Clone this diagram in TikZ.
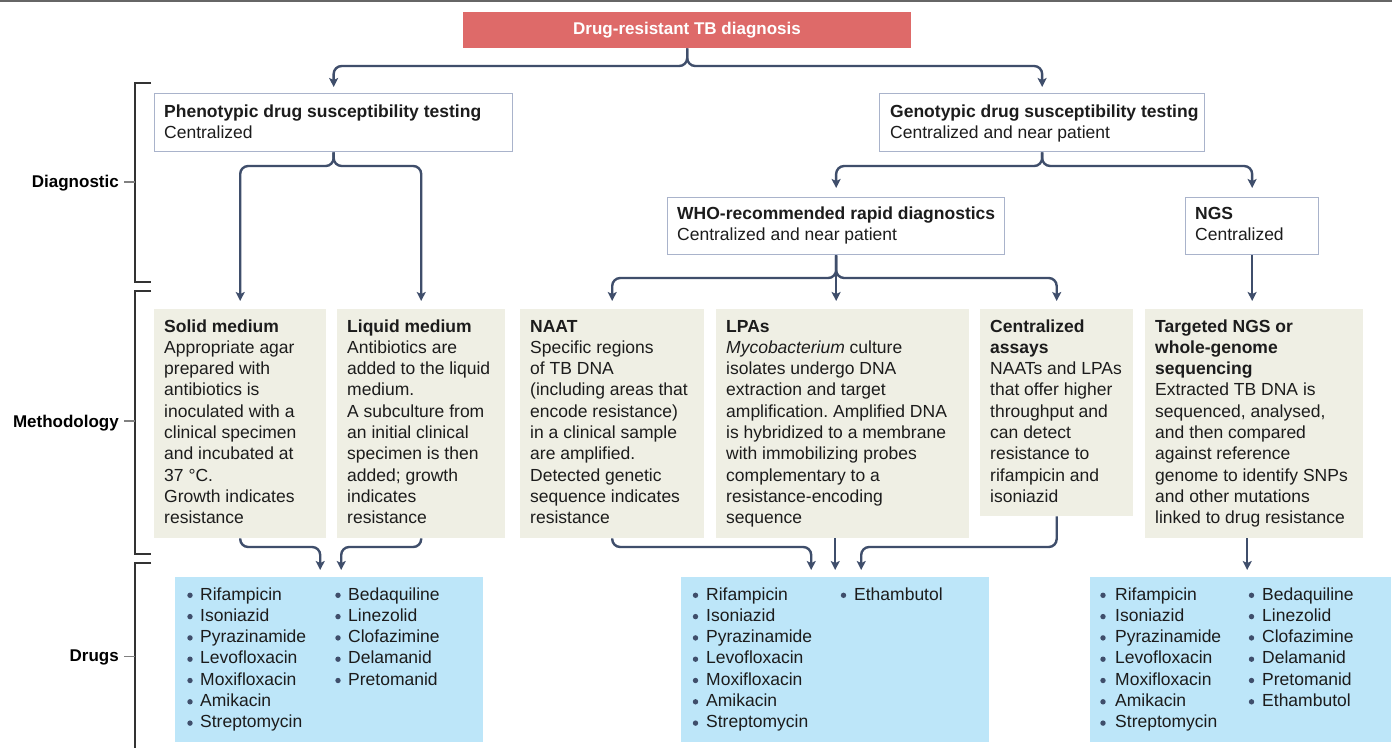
\documentclass[tikz,border=0pt]{standalone}
\usepackage{fontspec}
\setmainfont{Liberation Sans}
\usetikzlibrary{arrows.meta,calc}
\definecolor{titlered}{HTML}{DE6A69}
\definecolor{conncol}{HTML}{3F4E6B}
\definecolor{bordc}{HTML}{A9B3CB}
\definecolor{beige}{HTML}{EFEFE4}
\definecolor{drugblue}{HTML}{BDE6F9}
\definecolor{txtc}{HTML}{1C1C1C}
\newcommand{\mylines}[1]{\begin{tabular}[t]{@{}l@{}}#1\end{tabular}}
\frenchspacing
\begin{document}
\begin{tikzpicture}[x=1pt,y=-1pt,
 wbox/.style={draw=bordc,line width=1.3pt,fill=white,inner sep=0pt,anchor=north west},
 mbox/.style={fill=beige,inner sep=0pt,anchor=north west},
 dbox/.style={fill=drugblue,inner sep=0pt,anchor=north west},
 txt/.style={inner sep=0pt,anchor=base west,text=txtc,font=\fontsize{17.5}{21.3}\selectfont},
 lab/.style={inner sep=0pt,anchor=base east,text=black,font=\fontsize{17}{20}\selectfont\bfseries},
 conn/.style={draw=conncol,line width=2.4pt,rounded corners=8pt,-{Stealth[length=9pt,width=9pt,inset=2pt]},shorten >=8pt},
 brk/.style={draw=black!80,line width=1.3pt},
 tick/.style={draw=black!50,line width=1.3pt}
]
\useasboundingbox (0,0) rectangle (1392,748);
\fill[white] (0,0) rectangle (1392,748);
\draw[black!60,line width=1.6pt] (0,1) -- (1392,1);

% boxes
\node[fill=titlered,inner sep=0pt,anchor=north west,minimum width=448pt,minimum height=36pt] (title) at (463,12) {};
\node[inner sep=0pt,anchor=base,text=white,font=\fontsize{17}{20}\selectfont\bfseries] (titlet) at (687,34.3) {Drug-resistant TB diagnosis};

\node[wbox,minimum width=358pt,minimum height=58pt] (pheno) at (154,93) {};
\node[wbox,minimum width=325pt,minimum height=58pt] (geno) at (879,93) {};
\node[wbox,minimum width=337pt,minimum height=57pt] (who) at (667,197) {};
\node[wbox,minimum width=133pt,minimum height=57pt] (ngs) at (1185,197) {};

\node[mbox,minimum width=172pt,minimum height=229pt] (solid) at (154,309) {};
\node[mbox,minimum width=168pt,minimum height=229pt] (liquid) at (337,309) {};
\node[mbox,minimum width=184pt,minimum height=229pt] (naat) at (520,309) {};
\node[mbox,minimum width=253pt,minimum height=229pt] (lpa) at (716,309) {};
\node[mbox,minimum width=153pt,minimum height=207pt] (ca) at (980,309) {};
\node[mbox,minimum width=218pt,minimum height=229pt] (targ) at (1145,309) {};

\node[dbox,minimum width=308pt,minimum height=165pt] (drugL) at (175,577) {};
\node[dbox,minimum width=308pt,minimum height=165pt] (drugM) at (681,577) {};
\node[dbox,minimum width=301pt,minimum height=165pt] (drugR) at (1090,577) {};

% texts
\node[txt] (phenot) at (164,117) {\mylines{\textbf{Phenotypic drug susceptibility testing}\\Centralized}};
\node[txt] (genot) at (890,117) {\mylines{\textbf{Genotypic drug susceptibility testing}\\Centralized and near patient}};
\node[txt] (whot) at (677,219) {\mylines{\textbf{WHO-recommended rapid diagnostics}\\Centralized and near patient}};
\node[txt] (ngst) at (1195,219) {\mylines{\textbf{NGS}\\Centralized}};

\node[txt] (solidt) at (164,332) {\mylines{\textbf{Solid medium}\\Appropriate agar\\prepared with\\antibiotics is\\inoculated with a\\clinical specimen\\and incubated at\\37 °C.\\Growth indicates\\resistance}};
\node[txt] (liquidt) at (347,332) {\mylines{\textbf{Liquid medium}\\Antibiotics are\\added to the liquid\\medium.\\A subculture from\\an initial clinical\\specimen is then\\added; growth\\indicates\\resistance}};
\node[txt] (naatt) at (530,332) {\mylines{\textbf{NAAT}\\Specific regions\\of TB DNA\\(including areas that\\encode resistance)\\in a clinical sample\\are amplified.\\Detected genetic\\sequence indicates\\resistance}};
\node[txt] (lpat) at (726,332) {\mylines{\textbf{LPAs}\\\textit{Mycobacterium} culture\\isolates undergo DNA\\extraction and target\\amplification. Amplified DNA\\is hybridized to a membrane\\with immobilizing probes\\complementary to a\\resistance-encoding\\sequence}};
\node[txt] (cat) at (990,332) {\mylines{\textbf{Centralized}\\\textbf{assays}\\NAATs and LPAs\\that offer higher\\throughput and\\can detect\\resistance to\\rifampicin and\\isoniazid}};
\node[txt] (targt) at (1155,332) {\mylines{\textbf{Targeted NGS or}\\\textbf{whole-genome}\\\textbf{sequencing}\\Extracted TB DNA is\\sequenced, analysed,\\and then compared\\against reference\\genome to identify SNPs\\and other mutations\\linked to drug resistance}};

% drug lists
\node[txt] (dL1) at (200,600) {\mylines{Rifampicin\\Isoniazid\\Pyrazinamide\\Levofloxacin\\Moxifloxacin\\Amikacin\\Streptomycin}};
\node[txt] (dL2) at (348,600) {\mylines{Bedaquiline\\Linezolid\\Clofazimine\\Delamanid\\Pretomanid}};
\node[txt] (dM1) at (706,600) {\mylines{Rifampicin\\Isoniazid\\Pyrazinamide\\Levofloxacin\\Moxifloxacin\\Amikacin\\Streptomycin}};
\node[txt] (dM2) at (854,600) {\mylines{Ethambutol}};
\node[txt] (dR1) at (1115,600) {\mylines{Rifampicin\\Isoniazid\\Pyrazinamide\\Levofloxacin\\Moxifloxacin\\Amikacin\\Streptomycin}};
\node[txt] (dR2) at (1262,600) {\mylines{Bedaquiline\\Linezolid\\Clofazimine\\Delamanid\\Pretomanid\\Ethambutol}};

\foreach \i in {0,...,6} {
  \fill[conncol] (190,{595.3+21.3*\i}) circle (2.7);
  \fill[conncol] (695.5,{595.3+21.3*\i}) circle (2.7);
  \fill[conncol] (1103,{595.3+21.3*\i}) circle (2.7);
}
\foreach \i in {0,...,4} \fill[conncol] (338,{595.3+21.3*\i}) circle (2.7);
\fill[conncol] (843.5,595.3) circle (2.7);
\foreach \i in {0,...,5} \fill[conncol] (1251.5,{595.3+21.3*\i}) circle (2.7);

% connectors
\draw[conn,shorten >=6pt] (title.south) |- ($(pheno.north)+(0,-27)$) -- (pheno.north);
\draw[conn,shorten >=6pt] (title.south) |- ($(geno.north)+(0,-27)$) -- (geno.north);
\draw[conn] (pheno.south) |- ($(solid.north)+(0,-143)$) -- (solid.north);
\draw[conn] (pheno.south) |- ($(liquid.north)+(0,-143)$) -- (liquid.north);
\draw[conn,shorten >=9pt] (geno.south) |- ($(who.north)+(0,-31)$) -- (who.north);
\draw[conn,shorten >=9pt] (geno.south) |- ($(ngs.north)+(0,-31)$) -- (ngs.north);
\draw[conn] (who.south) |- ($(naat.north)+(0,-31)$) -- (naat.north);
\draw[conn] (who.south) -- (who.south |- lpa.north);
\draw[conn] (who.south) |- ($(ca.north)+(0,-31)$) -- (ca.north);
\draw[conn] (ngs.south) -- (ngs.south |- targ.north);

\draw[conn,shorten >=7pt] (solid.south) |- ($(drugL.north)+(-9,-30)$) -- ($(drugL.north)+(-9,0)$);
\draw[conn,shorten >=7pt] (liquid.south) |- ($(drugL.north)+(12,-30)$) -- ($(drugL.north)+(12,0)$);
\draw[conn,shorten >=7pt] (naat.south) |- ($(drugM.north)+(-24,-30)$) -- ($(drugM.north)+(-24,0)$);
\draw[conn,shorten >=7pt] (lpa.south -| drugM.north) -- (drugM.north);
\draw[conn,shorten >=7pt] (ca.south) |- ($(drugM.north)+(26,-30)$) -- ($(drugM.north)+(26,0)$);
\draw[conn,shorten >=7pt] ([xshift=-7pt]targ.south) -- ([xshift=-7pt]targ.south |- drugR.north);

% brackets and labels
\coordinate (bd) at (135,182);
\coordinate (bm) at (135,421);
\coordinate (bg) at (135,656.5);
\draw[brk] (151,83) -- (135,83) -- (135,282) -- (151,282);
\draw[brk] (151,291) -- (135,291) -- (135,554) -- (151,554);
\draw[brk] (151,563) -- (135,563) -- (135,748);
\node[lab] (ldiag) at (119,187.5) {Diagnostic};
\node[lab] (lmeth) at (119,427) {Methodology};
\node[lab] (ldrug) at (119,661) {Drugs};
\draw[tick] (124,182) -- (bd);
\draw[tick] (124,421) -- (bm);
\draw[tick] (124,656.5) -- (bg);
\end{tikzpicture}
\end{document}
